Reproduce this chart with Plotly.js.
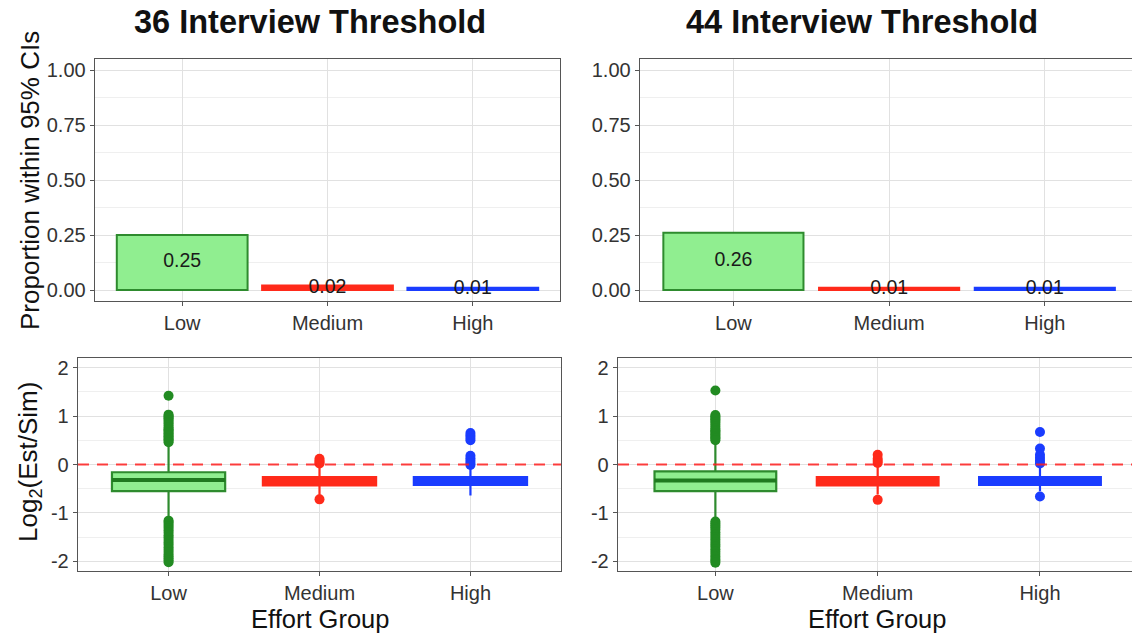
<!DOCTYPE html>
<html>
<head>
<meta charset="utf-8">
<script src="https://cdn.plot.ly/plotly-3.0.1.min.js"></script>
<style>html,body{margin:0;padding:0;background:#fff;}#chart{width:1132px;height:636px;}</style>
</head>
<body>
<div id="chart"></div>
<script>
// ---- data ----
const groups = ['Low', 'Medium', 'High'];
const panelTitles = ['36 Interview Threshold', '44 Interview Threshold'];

// proportion within 95% CIs
const prop36 = [0.25, 0.02, 0.01];
const prop44 = [0.26, 0.01, 0.01];

// box statistics of log2(Est/Sim)
const q1_36 = [-0.55, -0.43, -0.42];
const med_36 = [-0.32, -0.34, -0.33];
const q3_36 = [-0.16, -0.26, -0.26];
const lof_36 = [-1.12, -0.65, -0.64];
const upf_36 = [0.43, -0.02, -0.04];

const q1_44 = [-0.55, -0.43, -0.42];
const med_44 = [-0.33, -0.34, -0.33];
const q3_44 = [-0.14, -0.26, -0.26];
const lof_44 = [-1.15, -0.62, -0.55];
const upf_44 = [0.46, -0.03, -0.04];

// outliers
const out36_Low = [1.42, 1.03, 1.0, 0.98, 0.95, 0.92, 0.88, 0.84, 0.8, 0.76, 0.73, 0.7, 0.67, 0.64, 0.61, 0.58, 0.55, 0.52, 0.49, 0.46,
  -1.16, -1.19, -1.23, -1.27, -1.31, -1.36, -1.41, -1.46, -1.51, -1.56, -1.61, -1.66, -1.71, -1.76, -1.81, -1.86, -1.9, -1.94, -1.98, -2.02];
const out36_Med = [0.12, 0.08, 0.05, 0.02, -0.72];
const out36_High = [0.65, 0.6, 0.55, 0.5, 0.18, 0.13, 0.08, 0.03, -0.01];

const out44_Low = [1.53, 1.02, 0.99, 0.96, 0.93, 0.9, 0.86, 0.82, 0.78, 0.74, 0.71, 0.68, 0.65, 0.62, 0.59, 0.56, 0.53, 0.5,
  -1.18, -1.22, -1.26, -1.3, -1.35, -1.4, -1.45, -1.5, -1.55, -1.6, -1.65, -1.7, -1.75, -1.8, -1.85, -1.9, -1.95, -1.99, -2.03];
const out44_Med = [0.2, 0.12, 0.07, 0.03, -0.73];
const out44_High = [0.67, 0.33, 0.2, 0.14, 0.08, 0.02, -0.66];

// ---- styles ----
const fills = ['#90EE90', '#FF2A1A', '#1A3CFF'];
const lines = ['#2E8B2E', '#FF2A1A', '#1A3CFF'];
const medLines = ['#1F7A1F', '#FF2A1A', '#1A3CFF'];
const ptColors = ['#228B22', '#FF2A1A', '#1A3CFF'];
const FONT = 'Liberation Sans, Arial, Helvetica, sans-serif';

const W = 1132, H = 636;
const px = v => v / W;
const py = v => 1 - v / H;

const traces = [];

function barPanel(vals, xa, ya) {
  traces.push({
    type: 'bar', x: groups, y: vals, width: 0.9, xaxis: xa, yaxis: ya,
    marker: {color: fills, line: {color: lines, width: 2}},
    hoverinfo: 'skip'
  });
  traces.push({
    type: 'scatter', mode: 'text', x: groups, y: vals.map(v => v / 2),
    text: vals.map(v => v.toFixed(2)), xaxis: xa, yaxis: ya,
    textfont: {family: FONT, size: 19.5, color: '#1a1a1a'}, cliponaxis: false, hoverinfo: 'skip'
  });
}

function boxPanel(q1, med, q3, lof, upf, outs, xa, ya) {
  for (let i = 0; i < groups.length; i++) {
    traces.push({
      type: 'box', x: [groups[i]], q1: [q1[i]], median: [med[i]], q3: [q3[i]],
      lowerfence: [lof[i]], upperfence: [upf[i]], boxpoints: false,
      width: 0.75, whiskerwidth: 0, xaxis: xa, yaxis: ya,
      fillcolor: fills[i], line: {color: lines[i], width: 2.2}, hoverinfo: 'skip'
    });
    // thicker median bar (drawn as a zero-height box at the median)
    traces.push({
      type: 'box', x: [groups[i]], q1: [med[i]], median: [med[i]], q3: [med[i]],
      lowerfence: [med[i]], upperfence: [med[i]], boxpoints: false,
      width: 0.75, whiskerwidth: 0, xaxis: xa, yaxis: ya,
      fillcolor: medLines[i], line: {color: medLines[i], width: 4}, hoverinfo: 'skip'
    });
    traces.push({
      type: 'scatter', mode: 'markers', x: outs[i].map(() => groups[i]), y: outs[i],
      xaxis: xa, yaxis: ya, marker: {color: ptColors[i], size: 10}, hoverinfo: 'skip', cliponaxis: false
    });
  }
}

barPanel(prop36, 'x', 'y');
barPanel(prop44, 'x2', 'y2');
boxPanel(q1_36, med_36, q3_36, lof_36, upf_36, [out36_Low, out36_Med, out36_High], 'x3', 'y3');
boxPanel(q1_44, med_44, q3_44, lof_44, upf_44, [out44_Low, out44_Med, out44_High], 'x4', 'y4');

const tickFont = {family: FONT, size: 20, color: '#333333'};
const gridC = '#e1e1e1', minorC = '#efefef', lineC = '#555555';

function xAxis(domain, range, anchor) {
  return {
    domain: domain, range: range, anchor: anchor, type: 'category',
    showgrid: true, gridcolor: gridC, gridwidth: 1,
    showline: true, mirror: true, linecolor: lineC, linewidth: 1.3,
    ticks: 'outside', ticklen: 4, tickcolor: lineC, tickwidth: 1,
    tickfont: tickFont, zeroline: false, fixedrange: true
  };
}
function yAxis(domain, range, anchor, vals, text, minorDt, mirror) {
  return {
    domain: domain, range: range, anchor: anchor,
    tickmode: 'array', tickvals: vals, ticktext: text,
    showgrid: true, gridcolor: gridC, gridwidth: 1,
    minor: {tickmode: 'linear', tick0: 0, dtick: minorDt, showgrid: true, gridcolor: minorC, gridwidth: 1, ticks: ''},
    showline: true, mirror: mirror, linecolor: lineC, linewidth: 1.3,
    ticks: 'outside', ticklen: 4, tickcolor: lineC, tickwidth: 1,
    tickfont: tickFont, zeroline: false, fixedrange: true
  };
}

const propTicks = [0, 0.25, 0.5, 0.75, 1];
const propText = ['0.00', '0.25', '0.50', '0.75', '1.00'];
const logTicks = [-2, -1, 0, 1, 2];
const logText = ['-2', '-1', '0', '1', '2'];

const topDom = [py(301), py(59)];
const botDom = [py(571), py(358)];

const layout = {
  width: W, height: H,
  margin: {l: 0, r: 0, t: 0, b: 0},
  paper_bgcolor: '#ffffff', plot_bgcolor: '#ffffff',
  showlegend: false, barmode: 'overlay', boxmode: 'overlay',
  xaxis: xAxis([px(95), px(560)], [-0.6, 2.6], 'y'),
  yaxis: yAxis(topDom, [-0.05, 1.05], 'x', propTicks, propText, 0.125, true),
  xaxis2: xAxis([px(640), 1], [-0.6, 2.56], 'y2'),
  yaxis2: yAxis(topDom, [-0.05, 1.05], 'x2', propTicks, propText, 0.125, false),
  xaxis3: xAxis([px(78), px(561)], [-0.6, 2.6], 'y3'),
  yaxis3: yAxis(botDom, [-2.2, 2.2], 'x3', logTicks, logText, 0.5, true),
  xaxis4: xAxis([px(618), 1], [-0.6, 2.567], 'y4'),
  yaxis4: yAxis(botDom, [-2.2, 2.2], 'x4', logTicks, logText, 0.5, false),
  shapes: [
    {type: 'line', xref: 'x3 domain', x0: 0, x1: 1, yref: 'y3', y0: 0, y1: 0,
     line: {color: 'rgba(255,30,30,0.85)', width: 2, dash: '11px,8px'}},
    {type: 'line', xref: 'x4 domain', x0: 0, x1: 1, yref: 'y4', y0: 0, y1: 0,
     line: {color: 'rgba(255,30,30,0.85)', width: 2, dash: '11px,8px'}}
  ],
  annotations: [
    {text: '<b>' + panelTitles[0] + '</b>', xref: 'paper', yref: 'paper', x: px(310), y: py(22),
     showarrow: false, font: {family: FONT, size: 32.5, color: '#111'}, xanchor: 'center', yanchor: 'middle'},
    {text: '<b>' + panelTitles[1] + '</b>', xref: 'paper', yref: 'paper', x: px(862), y: py(22),
     showarrow: false, font: {family: FONT, size: 32.5, color: '#111'}, xanchor: 'center', yanchor: 'middle'},
    {text: 'Proportion within 95% CIs', xref: 'paper', yref: 'paper', x: px(30), y: py(181), textangle: -90,
     showarrow: false, font: {family: FONT, size: 26, color: '#111'}, xanchor: 'center', yanchor: 'middle'},
    {text: 'Log<sub>2</sub>(Est/Sim)', xref: 'paper', yref: 'paper', x: px(30), y: py(462), textangle: -90,
     showarrow: false, font: {family: FONT, size: 26, color: '#111'}, xanchor: 'center', yanchor: 'middle'},
    {text: 'Effort Group', xref: 'paper', yref: 'paper', x: px(320), y: py(619),
     showarrow: false, font: {family: FONT, size: 25.5, color: '#111'}, xanchor: 'center', yanchor: 'middle'},
    {text: 'Effort Group', xref: 'paper', yref: 'paper', x: px(877), y: py(619),
     showarrow: false, font: {family: FONT, size: 25.5, color: '#111'}, xanchor: 'center', yanchor: 'middle'}
  ]
};

Plotly.newPlot('chart', traces, layout, {staticPlot: true, displayModeBar: false});
</script>
</body>
</html>
